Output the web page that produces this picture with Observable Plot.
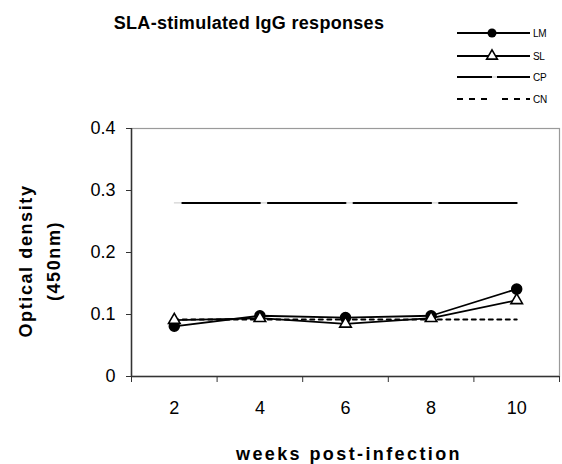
<!DOCTYPE html>
<html>
<head>
<meta charset="utf-8">
<script src="https://cdn.jsdelivr.net/npm/d3@7"></script>
<script src="https://cdn.jsdelivr.net/npm/@observablehq/plot@0.6"></script>
<style>
  html, body { margin: 0; padding: 0; background: white; }
  #chart svg { display: block; }
</style>
</head>
<body>
<div id="chart"></div>
<script>
// ---- data ----
const weeks = [2, 4, 6, 8, 10];
const LM = [0.081, 0.098, 0.095, 0.098, 0.141];
const SL = [0.091, 0.094, 0.085, 0.094, 0.123];
const CP = [0.28, 0.28, 0.28, 0.28, 0.28];
const CN = [0.092, 0.092, 0.092, 0.092, 0.092];
const yTicks = [0, 0.1, 0.2, 0.3, 0.4];
const seriesNames = ["LM", "SL", "CP", "CN"];
const titleText = "SLA-stimulated IgG responses";
const yTitle = ["Optical density", "(450nm)"];
const xTitle = "weeks post-infection";

// category boundaries (Excel-style ticks between categories)
const step = weeks[1] - weeks[0];
const bounds = weeks.map(w => w - step / 2).concat([weeks[weeks.length - 1] + step / 2]);

const font = "Arial, 'Liberation Sans', sans-serif";
const rows = (vals) => weeks.map((w, i) => ({w, v: vals[i]}));

const chart = Plot.plot({
  width: 562,
  height: 464,
  marginLeft: 131,
  marginRight: 3,
  marginTop: 128,
  marginBottom: 88,
  x: {type: "linear", domain: [bounds[0], bounds[bounds.length - 1]]},
  y: {domain: [0, 0.4]},
  style: {fontFamily: font, fontSize: "18px", color: "black", background: "white"},
  marks: [
    Plot.frame({stroke: "#9a9a9a", strokeWidth: 1.2}),
    Plot.axisY({ticks: yTicks, tickSize: 5, tickPadding: 11, tickFormat: d => String(d), label: null, fontSize: 18, stroke: "#333"}),
    Plot.axisX({ticks: bounds, tickSize: 6, tickFormat: () => "", label: null, stroke: "#333"}),
    Plot.axisX({ticks: weeks, tickSize: 0, tickPadding: 25, label: null, fontSize: 18}),
    Plot.ruleX([bounds[0]], {stroke: "#333", strokeWidth: 1.5}),
    Plot.ruleY([0], {stroke: "#333", strokeWidth: 1.5}),
    // CN dotted
    Plot.line(rows(CN), {x: "w", y: "v", stroke: "black", strokeWidth: 2, strokeDasharray: "4,4.5"}),
    // CP long dash with light gaps
    Plot.line(rows(CP), {x: "w", y: "v", stroke: "#c8c8c8", strokeWidth: 1}),
    Plot.line(rows(CP), {x: "w", y: "v", stroke: "black", strokeWidth: 2, strokeDasharray: "77.6,8", strokeDashoffset: 77.6}),
    // LM & SL
    Plot.line(rows(LM), {x: "w", y: "v", stroke: "black", strokeWidth: 1.8}),
    Plot.line(rows(SL), {x: "w", y: "v", stroke: "black", strokeWidth: 1.8}),
    Plot.dot(rows(LM), {x: "w", y: "v", r: 5, fill: "black", stroke: "black", symbol: "circle"}),
    Plot.dot(rows(SL), {x: "w", y: "v", r: 4.3, fill: "white", stroke: "black", strokeWidth: 1.6, symbol: "triangle"})
  ]
});

document.getElementById("chart").appendChild(chart);

// ---- titles and legend ----
const svg = d3.select(chart);

svg.append("text")
  .attr("x", 249).attr("y", 29)
  .attr("text-anchor", "middle")
  .attr("font-family", font).attr("font-size", 18).attr("font-weight", "bold")
  .attr("letter-spacing", "0.3px")
  .attr("fill", "black")
  .text(titleText);

yTitle.forEach((t, i) => {
  svg.append("text")
    .attr("transform", `translate(${[32, 60][i]},261) rotate(-90)`)
    .attr("text-anchor", "middle")
    .attr("font-family", font).attr("font-size", 18).attr("font-weight", "bold")
    .attr("letter-spacing", "1.6px")
    .attr("fill", "black")
    .text(t);
});

svg.append("text")
  .attr("x", 349).attr("y", 460)
  .attr("text-anchor", "middle")
  .attr("font-family", font).attr("font-size", 18).attr("font-weight", "bold")
  .attr("letter-spacing", "2.4px")
  .attr("fill", "black")
  .text(xTitle);

const legY = [33, 56, 77, 99];
const lx0 = 457, lx1 = 530, lxm = 492;
const leg = svg.append("g");
seriesNames.forEach((name, i) => {
  const y = legY[i];
  if (name === "CP") {
    leg.append("line").attr("x1", lx0).attr("x2", lx1).attr("y1", y).attr("y2", y)
      .attr("stroke", "#c8c8c8").attr("stroke-width", 1);
    leg.append("line").attr("x1", lx0).attr("x2", lx1).attr("y1", y).attr("y2", y)
      .attr("stroke", "black").attr("stroke-width", 2).attr("stroke-dasharray", "35,5");
  } else if (name === "CN") {
    leg.append("line").attr("x1", lx0).attr("x2", lx1).attr("y1", y).attr("y2", y)
      .attr("stroke", "black").attr("stroke-width", 2).attr("stroke-dasharray", "6,6,6,6,6,15");
  } else {
    leg.append("line").attr("x1", lx0).attr("x2", lx1).attr("y1", y).attr("y2", y)
      .attr("stroke", "black").attr("stroke-width", 1.8);
    if (name === "LM") {
      leg.append("circle").attr("cx", lxm).attr("cy", y).attr("r", 4.5).attr("fill", "black");
    } else {
      leg.append("path").attr("transform", `translate(${lxm},${y})`)
        .attr("d", d3.symbol(d3.symbolTriangle, Math.PI * 4 * 4)())
        .attr("fill", "white").attr("stroke", "black").attr("stroke-width", 1.6);
    }
  }
  leg.append("text").attr("x", lx1 + 3).attr("y", y).attr("dy", "0.35em")
    .attr("text-anchor", "start")
    .attr("font-family", font).attr("font-size", 10).attr("letter-spacing", "-0.3px")
    .attr("fill", "black")
    .text(name);
});
</script>
</body>
</html>
